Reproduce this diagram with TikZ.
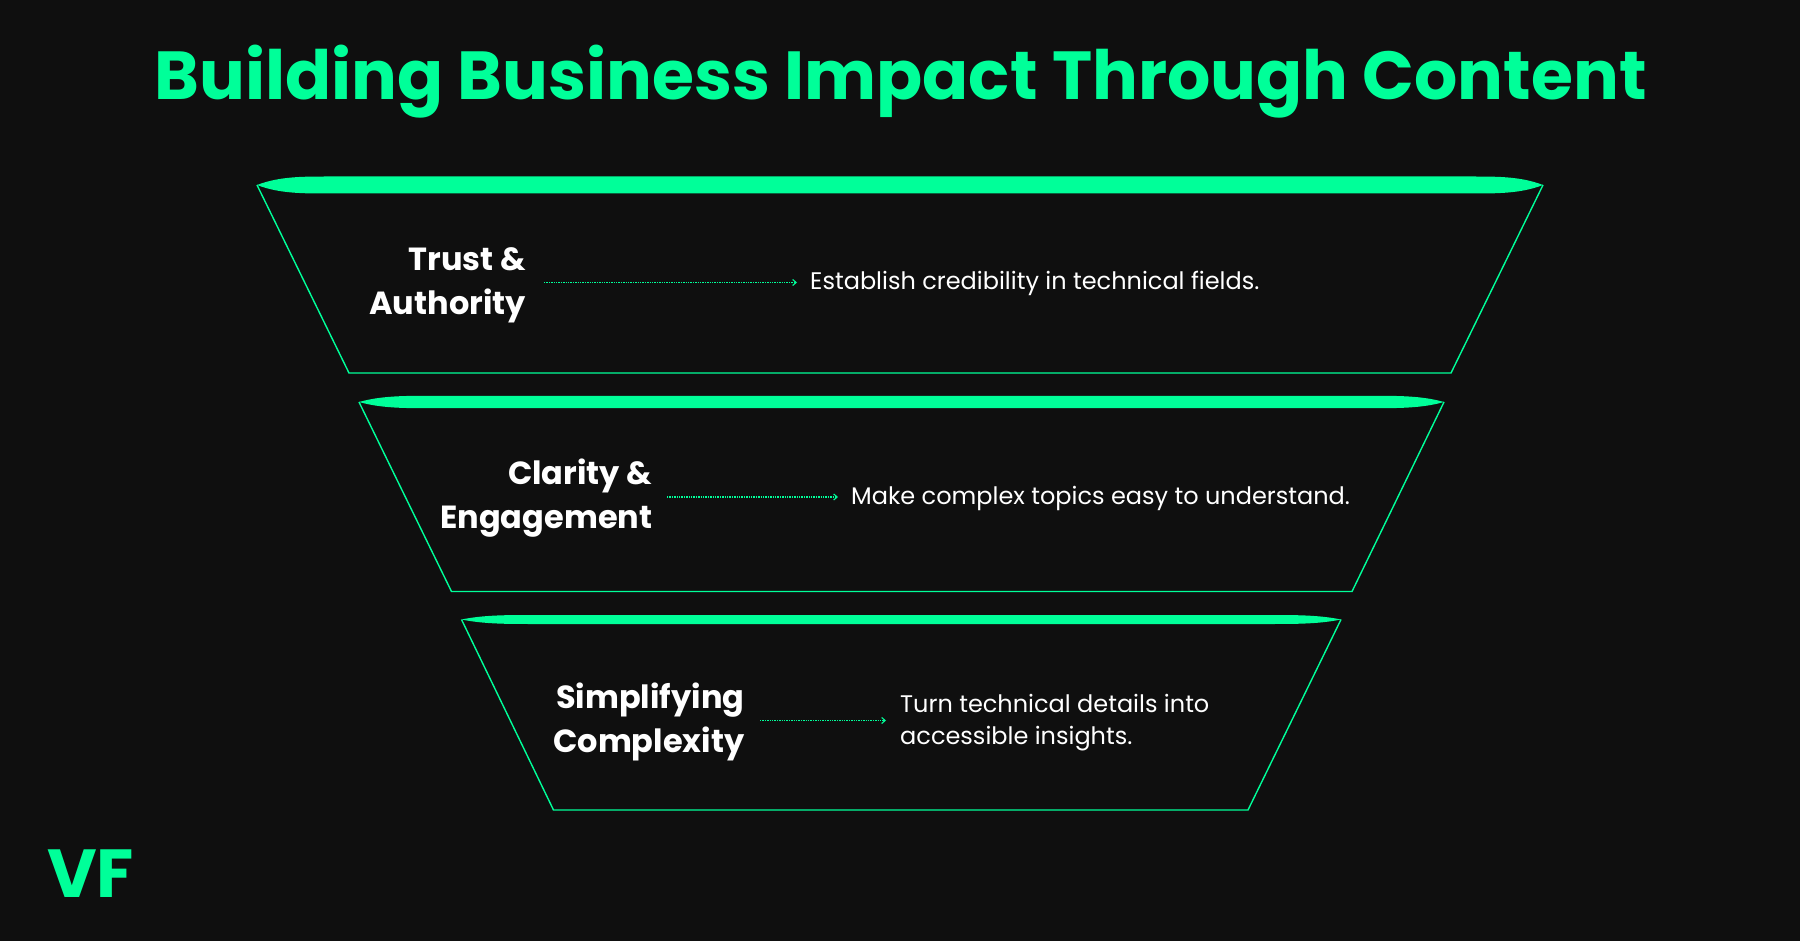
\documentclass[tikz,border=0pt]{standalone}
\usepackage{fontspec}
\setmainfont{Poppins}
\usetikzlibrary{arrows.meta}
\definecolor{bgc}{HTML}{0F0F0F}
\definecolor{grn}{HTML}{00FF99}
\tikzset{
  x=1pt,y=-1pt,
  funnel/.style={draw=grn,line width=1.4pt,line join=miter},
  barshape/.style={fill=grn},
  lab/.style={anchor=base east,inner sep=0pt,text=white,font=\fontsize{32}{44}\selectfont\bfseries,align=right},
  desc/.style={anchor=west,inner sep=0pt,text=white,font=\fontsize{24}{32.5}\selectfont,align=left},
  conn/.style={draw=grn,line width=1.3pt,dash pattern=on 1.3pt off 1.1pt,-{Straight Barb[length=3.5pt,width=6pt,line width=1.1pt]}},
}
\newcommand{\funnelpart}[7]{% TLx, TRx, BLx, BRx, topy, boty, halfbar
  \draw[funnel] (#1,#5) -- (#3,#6) -- (#4,#6) -- (#2,#5);
  \fill[barshape] (#1,#5) .. controls ({#1+22},{#5-#7}) and ({#1+45},{#5-#7}) .. ({#1+72},{#5-#7})
    -- ({#2-72},{#5-#7}) .. controls ({#2-45},{#5-#7}) and ({#2-22},{#5-#7}) .. (#2,#5)
    .. controls ({#2-22},{#5+#7}) and ({#2-45},{#5+#7}) .. ({#2-72},{#5+#7})
    -- ({#1+72},{#5+#7}) .. controls ({#1+45},{#5+#7}) and ({#1+22},{#5+#7}) .. (#1,#5) -- cycle;
}
\begin{document}
\begin{tikzpicture}
\useasboundingbox[fill=bgc] (0,0) rectangle (1800,941);
\node[anchor=base,inner sep=0pt,text=grn,font=\fontsize{68}{80}\selectfont\bfseries] (title) at (900.5,100) {Building Business Impact Through Content};

\funnelpart{257}{1543}{349}{1451}{185}{373}{8.5}
\funnelpart{359}{1444}{451.5}{1352}{402}{591.5}{6.2}
\funnelpart{461.5}{1341}{553.5}{1248}{619.5}{810}{4.5}

\node[lab] (l1) at (526,314.5) {Trust \&\\Authority};
\node[desc] (d1) at (810,283.5) {Establish credibility in technical fields.};
\coordinate (a1s) at (544,282.5);
\coordinate (a1e) at (797,282.5);
\draw[conn] (a1s) -- (a1e);

\node[lab] (l2) at (652.5,528.5) {Clarity \&\\Engagement};
\node[desc] (d2) at (851,498) {Make complex topics easy to understand.};
\coordinate (a2s) at (667,497);
\coordinate (a2e) at (838,497);
\draw[conn] (a2s) -- (a2e);

\node[lab] (l3) at (744.5,752) {Simplifying\\Complexity};
\node[desc] (d3) at (900,722.5) {Turn technical details into\\accessible insights.};
\coordinate (a3s) at (760,720.5);
\coordinate (a3e) at (886,720.5);
\draw[conn] (a3s) -- (a3e);

\node[anchor=base west,inner sep=0pt,text=grn,font=\fontsize{68}{70}\selectfont\bfseries] (vf) at (47,897) {VF};
\end{tikzpicture}
\end{document}
